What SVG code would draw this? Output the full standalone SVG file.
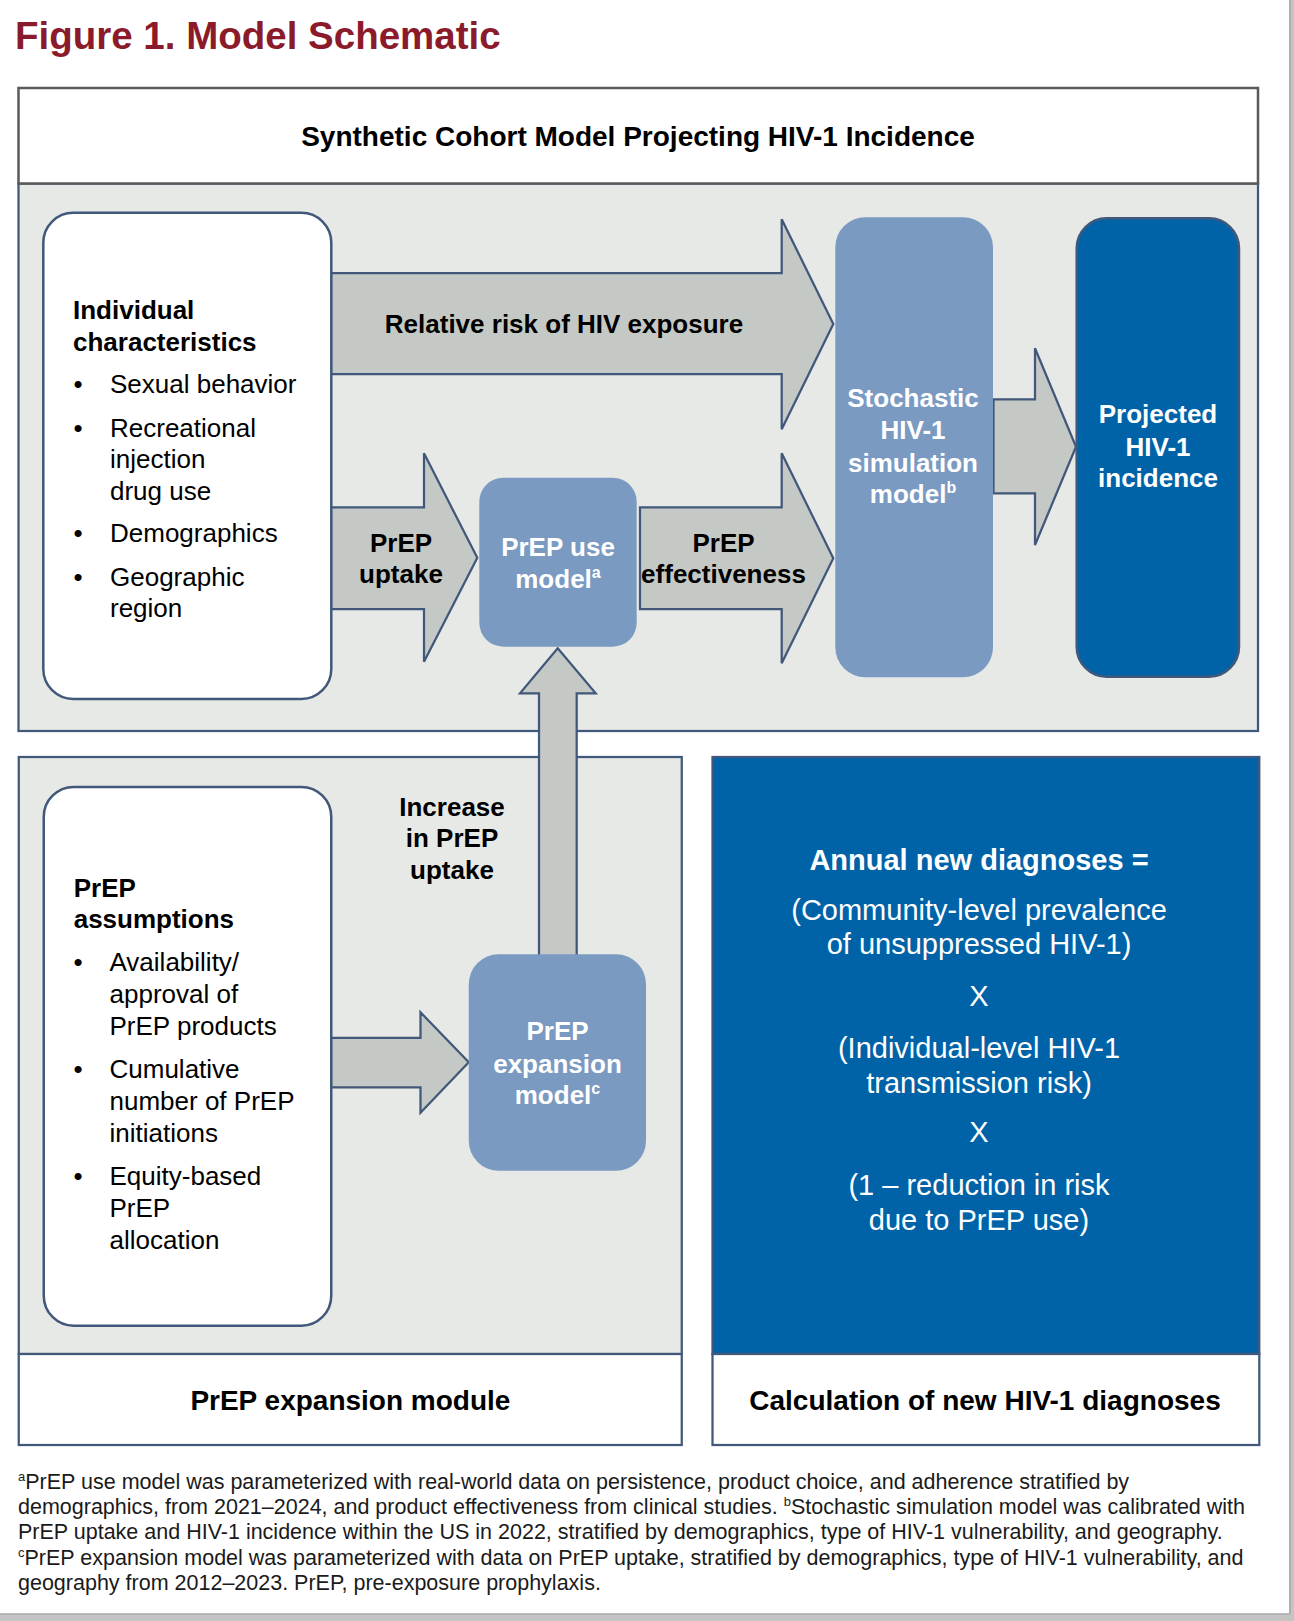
<svg xmlns="http://www.w3.org/2000/svg" width="1294" height="1621" viewBox="0 0 1294 1621">
  <style>
    text { font-family: "Liberation Sans", Arial, sans-serif; }
    .b { font-weight: bold; }
    .c { text-anchor: middle; }
    .f26 { font-size: 26px; }
    .f28 { font-size: 28px; }
    .f29 { font-size: 29px; }
    .w { fill: #FFFFFF; }
    .k { fill: #000000; }
    .panel { stroke: #41587A; stroke-width: 2.25; }
    .arrow { fill: #C5C9C5; stroke: #41587A; stroke-width: 2.25; stroke-linejoin: miter; }
    .white-box { fill: #FFFFFF; stroke: #41587A; stroke-width: 2.5; }
    .light-box { fill: #7B9AC2; }
    .foot { font-size: 21.5px; fill: #1A1A1A; }
  </style>

  <rect x="0" y="0" width="1294" height="1621" fill="#FFFFFF"/>
  <rect x="1289" y="0" width="5" height="1621" fill="#C4C4C4"/>
  <rect x="0" y="1614" width="1294" height="7" fill="#C4C4C4"/>
  <line x1="1290" y1="0" x2="1290" y2="1614" stroke="#A8A8A8" stroke-width="1.5"/>
  <line x1="0" y1="1614" x2="1290" y2="1614" stroke="#A8A8A8" stroke-width="1.5"/>

  <text x="15" y="49" class="b" font-size="38.5" fill="#8B1A2A">Figure 1. Model Schematic</text>

  <!-- Top section -->
  <g id="top-panel">
    <rect x="18.5" y="183.5" width="1239.5" height="547.5" fill="#E7E9E6" class="panel"/>
    <rect x="18.5" y="88" width="1239.5" height="95.5" fill="#FFFFFF" stroke="#5A5A5A" stroke-width="2.5"/>
    <text x="638" y="145.7" class="b c f28 k">Synthetic Cohort Model Projecting HIV-1 Incidence</text>
  </g>

  <!-- Bottom left section -->
  <g id="expansion-panel">
    <rect x="18.75" y="757" width="663" height="597" fill="#E7E9E6" class="panel"/>
    <rect x="18.75" y="1354" width="663" height="91" fill="#FFFFFF" class="panel"/>
    <text x="350.4" y="1409.6" class="b c f28 k">PrEP expansion module</text>
  </g>

  <!-- Bottom right section -->
  <g id="calculation-panel">
    <rect x="712.5" y="757" width="546.8" height="597" fill="#0063A8" class="panel"/>
    <rect x="712.5" y="1354" width="546.8" height="91" fill="#FFFFFF" class="panel"/>
    <text x="979" y="869.5" class="b c f29 w">Annual new diagnoses =</text>
    <text x="979" y="919.5" class="c f29 w">(Community-level prevalence</text>
    <text x="979" y="954.3" class="c f29 w">of unsuppressed HIV-1)</text>
    <text x="979" y="1005.6" class="c f29 w">X</text>
    <text x="979" y="1057.9" class="c f29 w">(Individual-level HIV-1</text>
    <text x="979" y="1092.7" class="c f29 w">transmission risk)</text>
    <text x="979" y="1141.8" class="c f29 w">X</text>
    <text x="979" y="1195.4" class="c f29 w">(1 – reduction in risk</text>
    <text x="979" y="1229.7" class="c f29 w">due to PrEP use)</text>
    <text x="985" y="1409.6" class="b c f28 k">Calculation of new HIV-1 diagnoses</text>
  </g>

  <!-- Connectors -->
  <g id="connectors">
    <polygon id="arrow-relative-risk" class="arrow" points="331,273 781.7,273 781.7,219.3 833.3,324 781.7,429.3 781.7,374 331,374"/>
    <polygon id="arrow-prep-uptake" class="arrow" points="331,507.3 424,507.3 424,453.3 477.3,557.8 424,661.7 424,609 331,609"/>
    <polygon id="arrow-prep-effectiveness" class="arrow" points="640,507.3 781.7,507.3 781.7,453.3 833.3,558.3 781.7,663.3 781.7,609 640,609"/>
    <polygon id="arrow-to-projected" class="arrow" points="993.5,399.3 1035,399.3 1035,348.3 1076,446.7 1035,545 1035,493.3 993.5,493.3"/>
    <polygon id="arrow-to-expansion" class="arrow" points="331,1037.8 420.5,1037.8 420.5,1012.3 468.75,1062.3 420.5,1112.8 420.5,1087.3 331,1087.3"/>
    <polygon id="arrow-increase-uptake" class="arrow" points="557.7,648.3 595.7,693.3 576.7,693.3 576.7,960 539,960 539,693.3 520,693.3"/>
    <text x="564" y="333.3" class="b c f26 k">Relative risk of HIV exposure</text>
    <text x="401" y="552.3" class="b c f26 k">PrEP</text>
    <text x="401" y="583.3" class="b c f26 k">uptake</text>
    <text x="723.5" y="551.7" class="b c f26 k">PrEP</text>
    <text x="723.5" y="583.3" class="b c f26 k">effectiveness</text>
    <text x="452" y="816" class="b c f26 k">Increase</text>
    <text x="452" y="847" class="b c f26 k">in PrEP</text>
    <text x="452" y="879.3" class="b c f26 k">uptake</text>
  </g>

  <!-- Nodes -->
  <g id="individual-characteristics">
    <rect x="43.3" y="212.8" width="288" height="486.2" rx="30" ry="30" class="white-box"/>
    <text x="73" y="319" class="b f26 k">Individual</text>
    <text x="73" y="350.7" class="b f26 k">characteristics</text>
    <text x="78" y="393.3" class="c f26 k">•</text>
    <text x="110" y="393.3" class="f26 k">Sexual behavior</text>
    <text x="78" y="436.7" class="c f26 k">•</text>
    <text x="110" y="436.7" class="f26 k">Recreational</text>
    <text x="110" y="468.3" class="f26 k">injection</text>
    <text x="110" y="500" class="f26 k">drug use</text>
    <text x="78" y="542.3" class="c f26 k">•</text>
    <text x="110" y="542.3" class="f26 k">Demographics</text>
    <text x="78" y="585.7" class="c f26 k">•</text>
    <text x="110" y="585.7" class="f26 k">Geographic</text>
    <text x="110" y="616.7" class="f26 k">region</text>
  </g>

  <g id="prep-use-model">
    <rect x="479.3" y="477.7" width="157.4" height="169" rx="24" ry="24" class="light-box"/>
    <text x="558" y="556" class="b c f26 w">PrEP use</text>
    <text x="558" y="587.7" class="b c f26 w">model<tspan font-size="16" dy="-10">a</tspan></text>
  </g>

  <g id="stochastic-model">
    <rect x="835.3" y="217.3" width="157.7" height="460" rx="30" ry="30" class="light-box"/>
    <text x="913" y="407.3" class="b c f26 w">Stochastic</text>
    <text x="913" y="439.3" class="b c f26 w">HIV-1</text>
    <text x="913" y="471.7" class="b c f26 w">simulation</text>
    <text x="913" y="503.3" class="b c f26 w">model<tspan font-size="16" dy="-10">b</tspan></text>
  </g>

  <g id="projected-incidence">
    <rect x="1076.7" y="218.3" width="162.3" height="458.4" rx="30" ry="30" fill="#0063A8" stroke="#41587A" stroke-width="2.5"/>
    <text x="1158" y="423.3" class="b c f26 w">Projected</text>
    <text x="1158" y="455.7" class="b c f26 w">HIV-1</text>
    <text x="1158" y="487.3" class="b c f26 w">incidence</text>
  </g>

  <g id="prep-assumptions">
    <rect x="43.75" y="786.9" width="287.5" height="538.8" rx="30" ry="30" class="white-box"/>
    <text x="73.7" y="897" class="b f26 k">PrEP</text>
    <text x="73.7" y="928.4" class="b f26 k">assumptions</text>
    <text x="78" y="971.3" class="c f26 k">•</text>
    <text x="109.5" y="971.3" class="f26 k">Availability/</text>
    <text x="109.5" y="1003.4" class="f26 k">approval of</text>
    <text x="109.5" y="1034.6" class="f26 k">PrEP products</text>
    <text x="78" y="1078" class="c f26 k">•</text>
    <text x="109.5" y="1078" class="f26 k">Cumulative</text>
    <text x="109.5" y="1109.6" class="f26 k">number of PrEP</text>
    <text x="109.5" y="1141.8" class="f26 k">initiations</text>
    <text x="78" y="1185" class="c f26 k">•</text>
    <text x="109.5" y="1185" class="f26 k">Equity-based</text>
    <text x="109.5" y="1216.8" class="f26 k">PrEP</text>
    <text x="109.5" y="1249" class="f26 k">allocation</text>
  </g>

  <g id="prep-expansion-model">
    <rect x="468.75" y="954.3" width="177.25" height="216.5" rx="30" ry="30" class="light-box"/>
    <text x="557.5" y="1040" class="b c f26 w">PrEP</text>
    <text x="557.5" y="1072.6" class="b c f26 w">expansion</text>
    <text x="557.5" y="1103.8" class="b c f26 w">model<tspan font-size="16" dy="-10">c</tspan></text>
  </g>

  <!-- Footnotes -->
  <g id="footnotes">
    <text x="18" y="1489" class="foot"><tspan font-size="13" dy="-8">a</tspan><tspan dy="8">PrEP use model was parameterized with real-world data on persistence, product choice, and adherence stratified by</tspan></text>
    <text x="18" y="1514" class="foot">demographics, from 2021–2024, and product effectiveness from clinical studies. <tspan font-size="13" dy="-8">b</tspan><tspan dy="8">Stochastic simulation model was calibrated with</tspan></text>
    <text x="18" y="1539.3" class="foot">PrEP uptake and HIV-1 incidence within the US in 2022, stratified by demographics, type of HIV-1 vulnerability, and geography.</text>
    <text x="18" y="1564.5" class="foot"><tspan font-size="13" dy="-8">c</tspan><tspan dy="8">PrEP expansion model was parameterized with data on PrEP uptake, stratified by demographics, type of HIV-1 vulnerability, and</tspan></text>
    <text x="18" y="1590" class="foot">geography from 2012–2023. PrEP, pre-exposure prophylaxis.</text>
  </g>
</svg>
